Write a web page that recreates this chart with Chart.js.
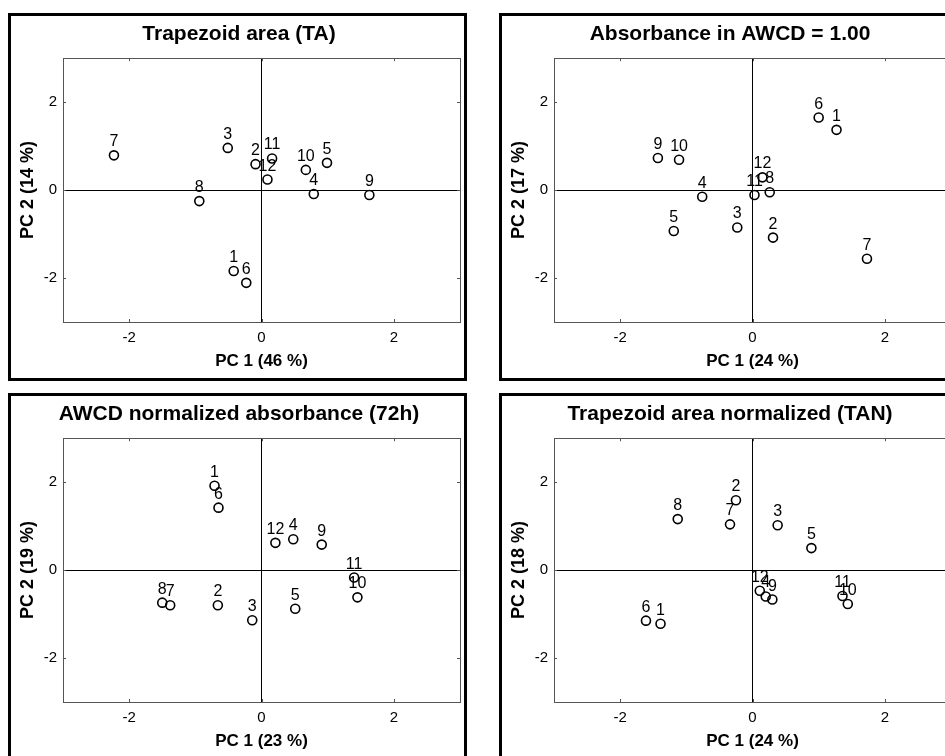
<!DOCTYPE html>
<html>
<head>
<meta charset="utf-8">
<title>PCA plots</title>
<script src="https://cdn.jsdelivr.net/npm/chart.js@4.4.0/dist/chart.umd.min.js"></script>
<style>
  html, body { margin: 0; padding: 0; background: #fff; overflow: hidden; width: 945px; height: 756px; }
  .panel { position: absolute; width: 459px; height: 368px; border: 3px solid #000; box-sizing: border-box; background: #fff; overflow: hidden; }
  .panel canvas { display: block; }
</style>
</head>
<body>
<div class="panel" style="left:8px;top:13px"><canvas id="pcaTA" width="456" height="362"></canvas></div>
<div class="panel" style="left:499px;top:13px"><canvas id="pcaAbs" width="456" height="362"></canvas></div>
<div class="panel" style="left:8px;top:393px"><canvas id="pcaNorm" width="456" height="362"></canvas></div>
<div class="panel" style="left:499px;top:393px"><canvas id="pcaTAN" width="456" height="362"></canvas></div>
<script>
// Sample numbers (point labels)
const sampleLabels = ['1', '2', '3', '4', '5', '6', '7', '8', '9', '10', '11', '12'];

// Trapezoid area (TA)
const taPC1 = [-0.42, -0.09, -0.51, 0.79, 0.99, -0.23, -2.23, -0.94, 1.63, 0.67, 0.16, 0.09];
const taPC2 = [-1.84, 0.59, 0.96, -0.09, 0.62, -2.11, 0.79, -0.25, -0.11, 0.46, 0.72, 0.24];

// Absorbance in AWCD = 1.00
const absPC1 = [1.27, 0.31, -0.23, -0.76, -1.19, 1.00, 1.73, 0.26, -1.43, -1.11, 0.03, 0.15];
const absPC2 = [1.37, -1.08, -0.85, -0.15, -0.93, 1.65, -1.56, -0.05, 0.73, 0.69, -0.11, 0.29];

// AWCD normalized absorbance (72h)
const normPC1 = [-0.71, -0.66, -0.14, 0.48, 0.51, -0.65, -1.38, -1.50, 0.91, 1.45, 1.40, 0.21];
const normPC2 = [1.92, -0.80, -1.14, 0.70, -0.88, 1.42, -0.80, -0.74, 0.58, -0.62, -0.17, 0.62];

// Trapezoid area normalized (TAN)
const tanPC1 = [-1.39, -0.25, 0.38, 0.20, 0.89, -1.61, -0.34, -1.13, 0.30, 1.44, 1.36, 0.11];
const tanPC2 = [-1.22, 1.59, 1.02, -0.60, 0.50, -1.15, 1.04, 1.16, -0.67, -0.77, -0.59, -0.47];

const panelTitles = ['Trapezoid area (TA)', 'Absorbance in AWCD = 1.00', 'AWCD normalized absorbance (72h)', 'Trapezoid area normalized (TAN)'];
const xTitles = ['PC 1 (46 %)', 'PC 1 (24 %)', 'PC 1 (23 %)', 'PC 1 (24 %)'];
const yTitles = ['PC 2 (14 %)', 'PC 2 (17 %)', 'PC 2 (19 %)', 'PC 2 (18 %)'];
const axisMin = -3;
const axisMax = 3;
const labelledTicks = [-2, 0, 2];

const FONT = '"Liberation Sans", Arial, Helvetica, sans-serif';

// Numbers above each circle
const pointLabelPlugin = {
  id: 'pointLabels',
  afterDatasetsDraw(chart) {
    const ctx = chart.ctx;
    const meta = chart.getDatasetMeta(0);
    ctx.save();
    ctx.font = '16px ' + FONT;
    ctx.fillStyle = '#000';
    ctx.textAlign = 'center';
    ctx.textBaseline = 'alphabetic';
    meta.data.forEach((pt, i) => {
      ctx.fillText(sampleLabels[i], pt.x, pt.y - 9);
    });
    ctx.restore();
  }
};

// Box around the plot area with small inward tick marks
const plotFramePlugin = {
  id: 'plotFrame',
  afterDraw(chart) {
    const { ctx, chartArea: a, scales } = chart;
    ctx.save();
    ctx.strokeStyle = '#555';
    ctx.lineWidth = 1;
    ctx.strokeRect(Math.round(a.left) + 0.5, Math.round(a.top) + 0.5, Math.round(a.right - a.left), Math.round(a.bottom - a.top));
    ctx.beginPath();
    labelledTicks.forEach(v => {
      const x = Math.round(scales.x.getPixelForValue(v)) + 0.5;
      ctx.moveTo(x, a.top); ctx.lineTo(x, a.top + 3);
      ctx.moveTo(x, a.bottom); ctx.lineTo(x, a.bottom - 3);
      const y = Math.round(scales.y.getPixelForValue(v)) + 0.5;
      ctx.moveTo(a.left, y); ctx.lineTo(a.left + 3, y);
      ctx.moveTo(a.right, y); ctx.lineTo(a.right - 3, y);
    });
    ctx.stroke();
    ctx.restore();
  }
};

function axisOptions(title, isX) {
  return {
    type: 'linear',
    min: axisMin,
    max: axisMax,
    ticks: {
      stepSize: 1,
      autoSkip: false,
      maxRotation: 0,
      color: '#000',
      font: { family: FONT, size: 15 },
      padding: isX ? 7 : 6,
      callback: (value) => labelledTicks.includes(value) ? String(value) : ''
    },
    grid: {
      drawTicks: false,
      lineWidth: 1,
      color: (c) => (c.tick && c.tick.value === 0) ? '#000' : 'rgba(0,0,0,0)'
    },
    border: { display: false },
    title: {
      display: true,
      text: title,
      color: '#000',
      font: { family: FONT, size: isX ? 17 : 18, weight: 'bold' },
      padding: isX ? { top: 0, bottom: 6 } : { top: 6, bottom: 0 }
    },
    afterFit: (scale) => {
      if (isX) scale.height = 56; else scale.width = 52;
    }
  };
}

function renderPanel(canvasId, index, pc1, pc2) {
  const points = pc1.map((x, i) => ({ x: x, y: pc2[i] }));
  new Chart(document.getElementById(canvasId), {
    type: 'scatter',
    data: {
      datasets: [{
        data: points,
        pointRadius: 4.5,
        pointHoverRadius: 4.5,
        pointBorderWidth: 1.6,
        pointBorderColor: '#000',
        pointBackgroundColor: 'rgba(255,255,255,0)'
      }]
    },
    options: {
      responsive: false,
      animation: false,
      layout: { padding: { left: 0, right: 0, top: 0, bottom: 0 } },
      plugins: {
        legend: { display: false },
        tooltip: { enabled: false },
        title: {
          display: true,
          text: panelTitles[index],
          color: '#000',
          font: { family: FONT, size: 21, weight: 'bold' },
          padding: { top: 6, bottom: 11 }
        }
      },
      scales: {
        x: axisOptions(xTitles[index], true),
        y: axisOptions(yTitles[index], false)
      }
    },
    plugins: [pointLabelPlugin, plotFramePlugin]
  });
}

renderPanel('pcaTA', 0, taPC1, taPC2);
renderPanel('pcaAbs', 1, absPC1, absPC2);
renderPanel('pcaNorm', 2, normPC1, normPC2);
renderPanel('pcaTAN', 3, tanPC1, tanPC2);
</script>
</body>
</html>
